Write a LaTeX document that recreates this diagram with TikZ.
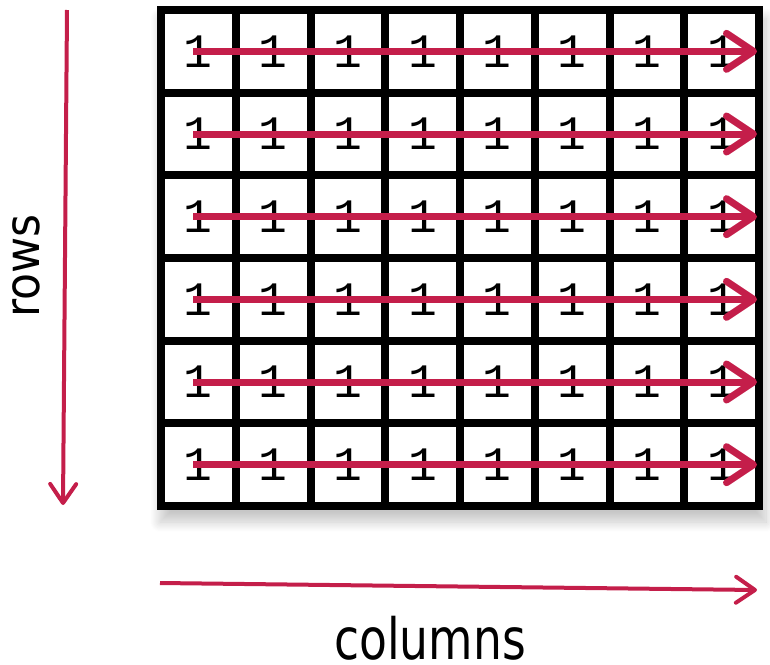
\documentclass[tikz,border=0pt]{standalone}
\usepackage{fontspec}
\usepackage{tikz}
\usetikzlibrary{positioning}
\usetikzlibrary{arrows.meta}
\usetikzlibrary{shadows.blur}
\newfontfamily\labelfont[FakeStretch=0.92]{DejaVu Sans}
\newfontfamily\widelabelfont[FakeStretch=0.8]{DejaVu Sans}
\newfontfamily\digitfont{Liberation Mono}
\definecolor{arrowred}{RGB}{196,30,74}
\tikzset{
    cellbox/.style={
        shape=rectangle, draw=black, fill=white, line width=8pt,
        minimum width=74.75pt, minimum height=82.67pt,
        inner sep=0pt, outer sep=0pt,
        font=\digitfont\fontsize{48}{50}\selectfont
    },
    scanarrow/.style={
        draw=arrowred, line width=7pt,
        -{Straight Barb[round, length=27pt, width=36pt]}
    },
    axisarrow/.style={
        draw=arrowred, line width=4pt,
        -{Straight Barb[round, length=19pt, width=26pt]}
    },
    axislabel/.style={
        inner sep=0pt, font=\labelfont\fontsize{48}{50}\selectfont
    }
}

\begin{document}
\begin{tikzpicture}[x=1pt, y=-1pt]
		\useasboundingbox (0,0) rectangle (770,664);
		
		% grid backing with its shadow
		\fill[white, blur shadow={shadow xshift=3pt, shadow yshift=-12pt,
		      shadow blur radius=10pt, shadow blur steps=12, shadow opacity=22}] (157,6) rectangle (763,510);
		
		\foreach \r in {1,...,6}
		    \foreach \c in {1,...,8}
		        \node[cellbox] (cell-\r-\c) at ({161+74.75*(\c-0.5)},{10+82.67*(\r-0.5)}) {1};
		
		% one arrow along every row
		\foreach \r in {1,...,6}
		    \draw[scanarrow] ([xshift=-5pt]cell-\r-1.center) -- ([xshift=-2pt]cell-\r-8.east);
		
		\coordinate (rows-start) at (67,10);
		\coordinate (rows-end) at (63,505);
		\draw[axisarrow] (rows-start) -- (rows-end);
		\node[axislabel, rotate=90, anchor=base] (rows-label) at (39,266) {rows};
		
		\coordinate (cols-start) at (160,583);
		\coordinate (cols-end) at (757,590);
		\draw[axisarrow] (cols-start) -- (cols-end);
		\node[axislabel, anchor=base, font=\widelabelfont\fontsize{57}{60}\selectfont] (cols-label) at (430,659) {columns};
\end{tikzpicture}
\end{document}
